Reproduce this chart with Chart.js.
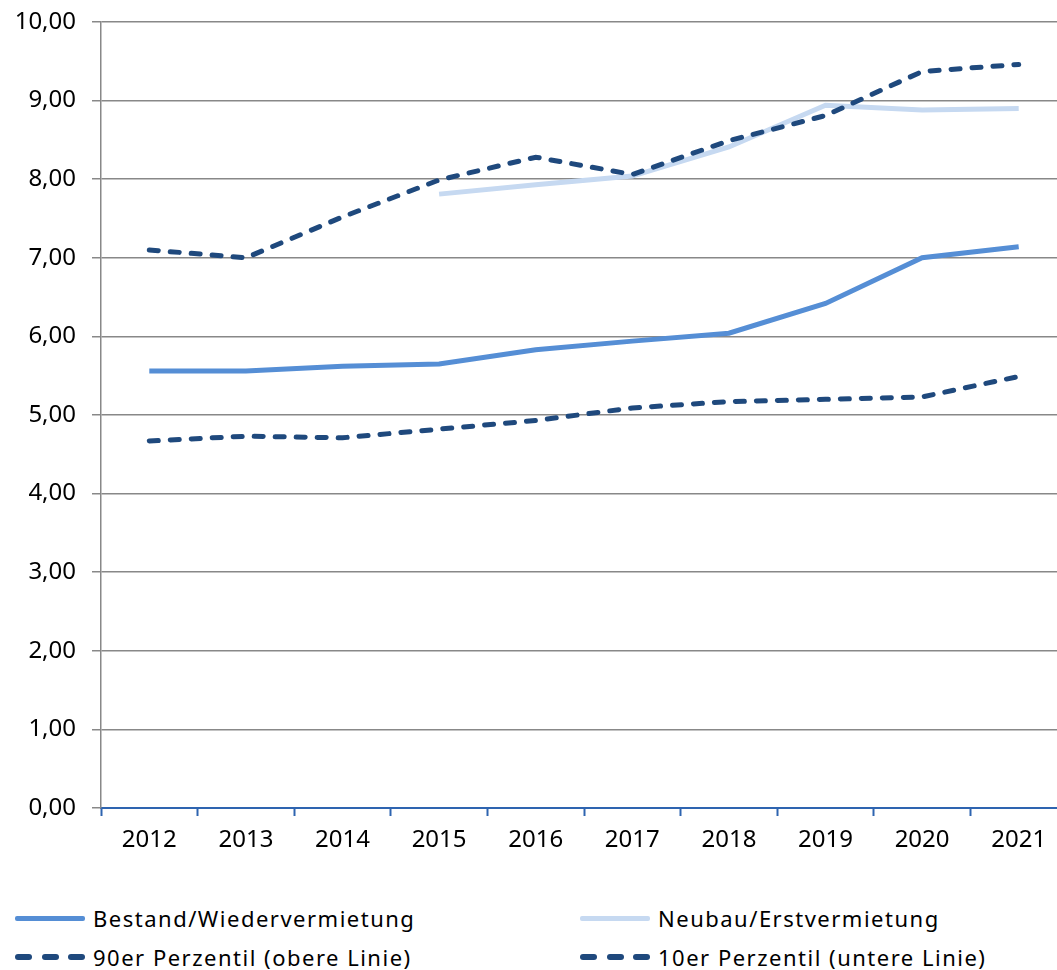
<!DOCTYPE html>
<html>
<head>
<meta charset="utf-8">
<script src="https://cdn.jsdelivr.net/npm/chart.js@4.4.1/dist/chart.umd.min.js"></script>
<style>
  html, body { margin: 0; padding: 0; background: #fff; overflow: hidden; }
  body { width: 1057px; height: 970px; position: relative; font-family: "Noto Sans", sans-serif; }
  #wrap { position: absolute; left: 0; top: 0; width: 1067px; height: 860px; }
  .legend .item { position: absolute; display: flex; align-items: center; font-size: 22px; letter-spacing: 1.5px; color: #000; white-space: nowrap; }
  .legend .swatch { width: 70px; height: 5px; margin-right: 8px; border-radius: 2px; }
  .legend .dashes { width: 70px; height: 6px; margin-right: 8px; display: flex; justify-content: space-between; }
  .legend .dashes i { display: block; width: 17px; height: 6px; border-radius: 3px; background: #1F497D; }
</style>
</head>
<body>
<div id="wrap"><canvas id="chart" width="1067" height="860"></canvas></div>
<div class="legend">
  <div class="item" style="left:15px; top:903px;"><span class="swatch" style="background:#558ED5;"></span>Bestand/Wiedervermietung</div>
  <div class="item" style="left:580px; top:903px;"><span class="swatch" style="background:#C6D9F1;"></span>Neubau/Erstvermietung</div>
  <div class="item" style="left:15px; top:942px;"><span class="dashes"><i></i><i></i><i></i></span>90er Perzentil (obere Linie)</div>
  <div class="item" style="left:580px; top:942px;"><span class="dashes"><i></i><i></i><i></i></span>10er Perzentil (untere Linie)</div>
</div>
<script>
const years = ['2012', '2013', '2014', '2015', '2016', '2017', '2018', '2019', '2020', '2021'];
const bestand = [5.56, 5.56, 5.62, 5.65, 5.83, 5.94, 6.04, 6.42, 7.00, 7.14];
const neubau = [null, null, null, 7.81, 7.93, 8.04, 8.41, 8.94, 8.88, 8.90];
const perzentil90 = [7.10, 7.00, 7.52, 7.99, 8.28, 8.06, 8.49, 8.81, 9.37, 9.46];
const perzentil10 = [4.67, 4.73, 4.71, 4.82, 4.93, 5.09, 5.17, 5.20, 5.23, 5.49];

const fontFamily = '"Noto Sans", sans-serif';

const ctx = document.getElementById('chart').getContext('2d');
new Chart(ctx, {
    type: 'line',
    data: {
        labels: years,
        datasets: [
            {label: 'Bestand/Wiedervermietung', data: bestand, borderColor: '#558ED5', borderWidth: 5, order: 1},
            {label: 'Neubau/Erstvermietung', data: neubau, borderColor: '#C6D9F1', borderWidth: 5, order: 2},
            {label: '90er Perzentil (obere Linie)', data: perzentil90, borderColor: '#1F497D', borderWidth: 5, borderDash: [9, 12], borderCapStyle: 'round', order: 0},
            {label: '10er Perzentil (untere Linie)', data: perzentil10, borderColor: '#1F497D', borderWidth: 5, borderDash: [9, 12], borderCapStyle: 'round', order: 0}
        ]
    },
    options: {
        responsive: false,
        animation: false,
        layout: {padding: {top: 22, right: 0, left: 0, bottom: 0}},
        elements: {
            point: {radius: 0, hoverRadius: 0},
            line: {tension: 0, fill: false}
        },
        plugins: {
            legend: {display: false},
            tooltip: {enabled: false}
        },
        scales: {
            x: {
                offset: true,
                grid: {offset: true, drawOnChartArea: false, drawTicks: true, tickLength: 8, tickColor: '#2E64B0', tickWidth: 2},
                border: {color: '#2E64B0', width: 2},
                ticks: {color: '#000', font: {family: fontFamily, size: 24}, padding: 10, maxRotation: 0},
                afterFit: (scale) => { scale.height = 860 - 808; }
            },
            y: {
                min: 0,
                max: 10,
                grid: {color: '#888888', lineWidth: 1.5, tickLength: 9, tickColor: '#888888'},
                border: {color: '#888888', width: 1.5},
                ticks: {
                    stepSize: 1,
                    color: '#000',
                    font: {family: fontFamily, size: 24},
                    padding: 16,
                    callback: v => v.toFixed(2).replace('.', ',')
                },
                afterFit: (scale) => {
                    scale.width = 101;
                    scale.paddingTop = 0;
                    scale.paddingBottom = 0;
                }
            }
        }
    }
});
</script>
</body>
</html>
